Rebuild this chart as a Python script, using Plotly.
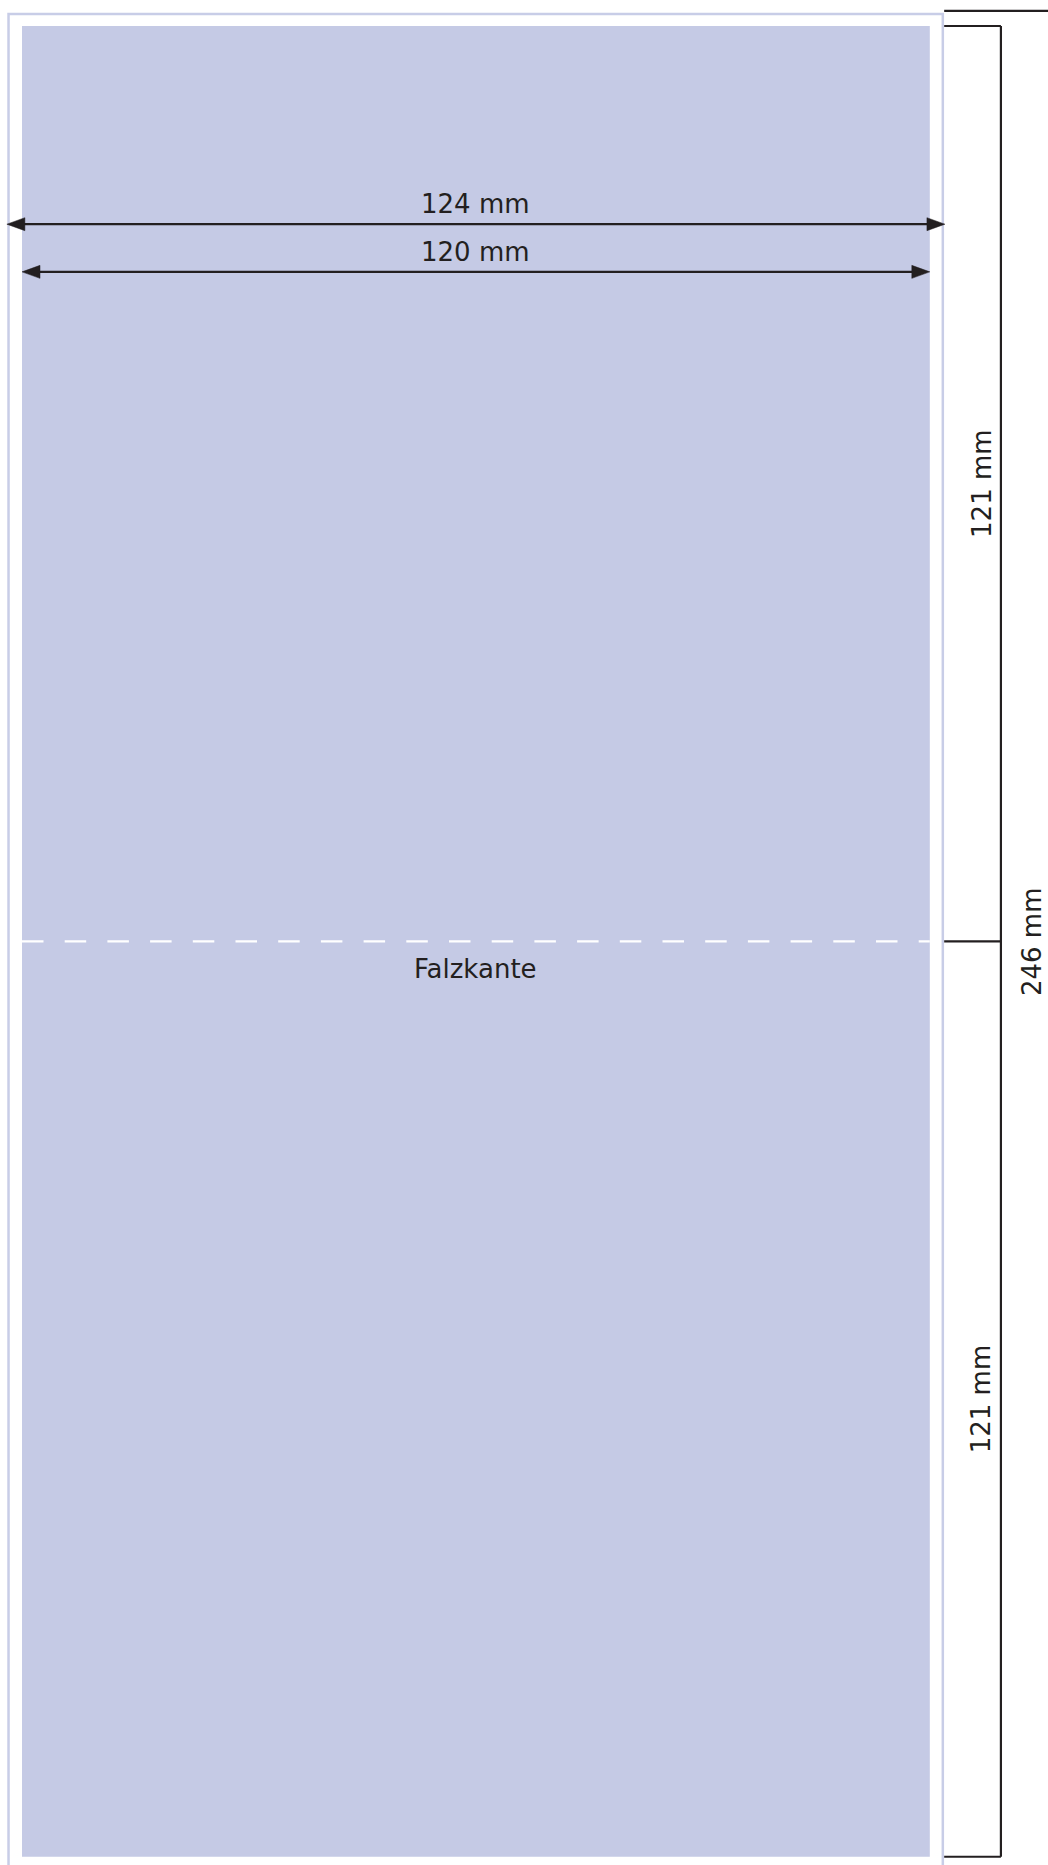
import plotly.graph_objects as go

# ---- data (mm) ----
width_labels = ["124 mm", "120 mm"]
width_values = [124, 120]          # with bleed, trim
panel_heights = [121, 121]          # two panels
height_labels = ["121 mm", "121 mm"]
total_height = 246
total_label = "246 mm"
fold_label = "Falzkante"

trim_w = width_values[1]
bleed = (width_values[0] - width_values[1]) / 2
trim_h = sum(panel_heights)

# ---- styles ----
K = 7.565  # px per mm
OX, OY = 22, 26  # pixel offset of trim origin
W, H = 1048, 1865
FILL = "#c5cae5"
BORDER = "#c8cde7"
INK = "#231f20"
FONT = "DejaVu Sans"
FS = 26

fig = go.Figure()
shapes = []
annotations = []

# bleed border
shapes.append(dict(type="rect", x0=-bleed + 0.22, x1=trim_w + bleed - 0.28,
                   y0=-bleed + 0.4, y1=trim_h + bleed + 3,
                   line=dict(color=BORDER, width=2.5), fillcolor="rgba(0,0,0,0)", layer="below"))
# trim area fill
shapes.append(dict(type="rect", x0=0, x1=trim_w, y0=0, y1=trim_h,
                   line=dict(width=0), fillcolor=FILL, layer="below"))
# fold line
fold_y = panel_heights[0]
shapes.append(dict(type="line", x0=0, x1=trim_w, y0=fold_y, y1=fold_y,
                   line=dict(color="white", width=2.2, dash="21.5px,21.2px")))

# width arrows
arrow_ys = [26.2, 32.5]
AL = 18 / K   # arrowhead length mm
AW = 6.5 / K  # arrowhead half width mm
for val, ay in zip(width_values, arrow_ys):
    xa = (trim_w - val) / 2
    xb = xa + val
    shapes.append(dict(type="line", x0=xa + AL * 0.8, x1=xb - AL * 0.8, y0=ay, y1=ay,
                       line=dict(color=INK, width=2.2)))
    shapes.append(dict(type="path",
                       path=f"M {xa},{ay} L {xa+AL},{ay-AW} L {xa+AL},{ay+AW} Z",
                       fillcolor=INK, line=dict(color=INK, width=0.5)))
    shapes.append(dict(type="path",
                       path=f"M {xb},{ay} L {xb-AL},{ay-AW} L {xb-AL},{ay+AW} Z",
                       fillcolor=INK, line=dict(color=INK, width=0.5)))

# width labels
label_ys = [23.5, 29.9]
for lab, ly in zip(width_labels, label_ys):
    annotations.append(dict(x=trim_w / 2, y=ly, text=lab, showarrow=False,
                            font=dict(family=FONT, size=FS, color=INK),
                            xanchor="center", yanchor="middle"))

# fold label
annotations.append(dict(x=trim_w / 2, y=fold_y + 3.6, text=fold_label, showarrow=False,
                        font=dict(family=FONT, size=FS, color=INK),
                        xanchor="center", yanchor="middle"))

# height bracket
bx0 = trim_w + bleed - 0.1
bx1 = 129.4
edges = [0]
for h in panel_heights:
    edges.append(edges[-1] + h)
for e in edges:
    shapes.append(dict(type="line", x0=bx0, x1=bx1, y0=e, y1=e,
                       line=dict(color=INK, width=2.2)))
shapes.append(dict(type="line", x0=bx1, x1=bx1, y0=edges[0], y1=edges[-1],
                   line=dict(color=INK, width=2.2)))
for lab, a, b in zip(height_labels, edges[:-1], edges[1:]):
    annotations.append(dict(x=126.8, y=(a + b) / 2, text=lab, showarrow=False,
                            textangle=-90,
                            font=dict(family=FONT, size=FS, color=INK),
                            xanchor="center", yanchor="middle"))

# total height (bleed) line at top
top_y = -(total_height - trim_h) / 2
shapes.append(dict(type="line", x0=bx0, x1=145, y0=top_y, y1=top_y,
                   line=dict(color=INK, width=2.2)))
annotations.append(dict(x=133.6, y=top_y + total_height / 2, text=total_label, showarrow=False,
                        textangle=-90,
                        font=dict(family=FONT, size=FS, color=INK),
                        xanchor="center", yanchor="middle"))

fig.update_layout(
    width=W, height=H,
    margin=dict(l=0, r=0, t=0, b=0),
    paper_bgcolor="white", plot_bgcolor="white",
    shapes=shapes, annotations=annotations,
    showlegend=False,
    xaxis=dict(range=[-OX / K, (W - OX) / K], visible=False, fixedrange=True),
    yaxis=dict(range=[(H - OY) / K, -OY / K], visible=False, fixedrange=True),
)

fig.write_html("out.html", config={"displayModeBar": False},
               post_script="document.body.style.margin='0';document.body.style.overflow='hidden';")
